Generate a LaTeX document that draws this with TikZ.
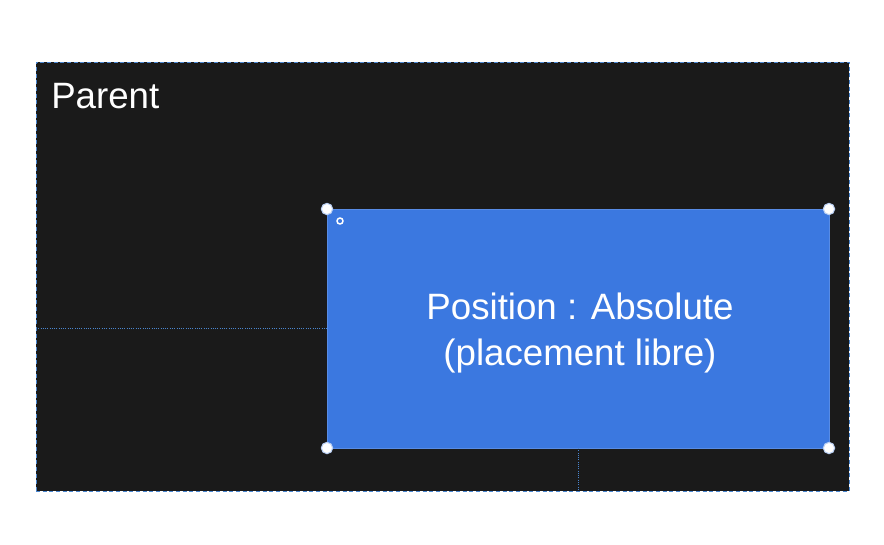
\documentclass[tikz,border=0pt]{standalone}
\usepackage{fontspec}
\setmainfont{Liberation Sans}
\usetikzlibrary{positioning}
\definecolor{parentbg}{HTML}{1A1A1A}
\definecolor{absblue}{HTML}{3B78E0}
\definecolor{guideblue}{HTML}{4A86CF}

\begin{document}
\begin{tikzpicture}[x=0.75pt, y=-0.75pt,
  parentbox/.style={rectangle, fill=parentbg, draw=guideblue, densely dashed, line width=0.7pt, inner sep=0pt, outer sep=0pt},
  absbox/.style={rectangle, fill=absblue, draw=absblue!85!white, line width=0.6pt, inner sep=0pt, outer sep=0pt, text=white, align=center},
  handle/.style={circle, fill=white, draw=absblue!35!white, line width=0.8pt, inner sep=0pt, minimum size=8.5pt},
  ring/.style={circle, fill=absblue, draw=white, line width=1.1pt, inner sep=0pt, minimum size=4.5pt},
  guide/.style={draw=guideblue, densely dotted, line width=0.7pt}]
\useasboundingbox (0,0) rectangle (884,544);
\fill[white] (0,0) rectangle (884,544);
\node [parentbox, minimum width=609.75pt, minimum height=321.75pt] (parent) at (442.5,276.5) {};
\node [anchor=base west, text=white, font=\fontsize{27.5}{32}\selectfont, inner sep=0pt] (parentlbl) at (51,108) {Parent};
\node [absbox, minimum width=376.5pt, minimum height=179.25pt] (abs) at (578,328.5) {};
\node [text=white, align=center, font=\fontsize{27.5}{34.5}\selectfont] (abstxt) at (580,333) {Position : Absolute\\(placement libre)};
\draw [guide] (parent.west |- abs.west) -- (abs.west);
\draw [guide] (abs.south) -- (abs.south |- parent.south);
\node [handle] (hnw) at (abs.north west) {};
\node [handle] (hne) at (abs.north east) {};
\node [handle] (hsw) at (abs.south west) {};
\node [handle] (hse) at (abs.south east) {};
\node [ring, xshift=9.75pt, yshift=-9pt] (origin) at (abs.north west) {};
\end{tikzpicture}
\end{document}
